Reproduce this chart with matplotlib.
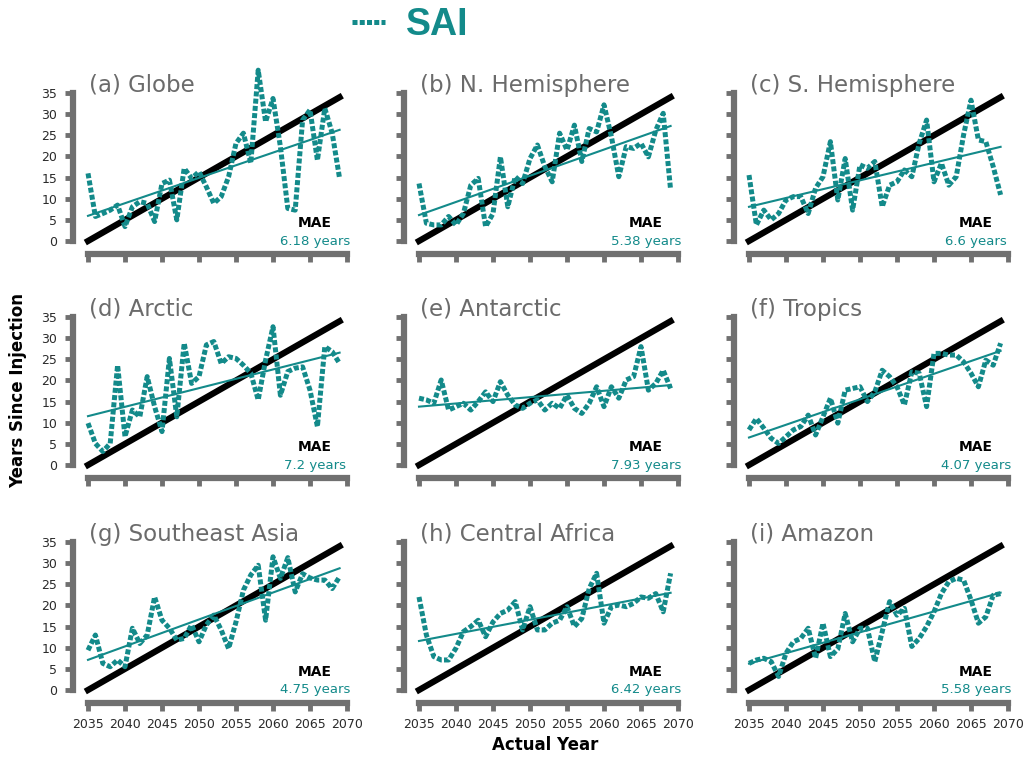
import numpy as np
import matplotlib
matplotlib.use("Agg")
import matplotlib.pyplot as plt
from matplotlib.lines import Line2D

plt.rcParams['font.family'] = ['DejaVu Sans']

years = np.arange(2035, 2070)

titles = ["(a) Globe", "(b) N. Hemisphere", "(c) S. Hemisphere",
          "(d) Arctic", "(e) Antarctic", "(f) Tropics",
          "(g) Southeast Asia", "(h) Central Africa", "(i) Amazon"]
mae_labels = ["6.18 years", "5.38 years", "6.6 years",
              "7.2 years", "7.93 years", "4.07 years",
              "4.75 years", "6.42 years", "5.58 years"]

# predicted years since injection, one value per actual year 2035-2069
globe = [16.0, 5.8, 6.5, 7.3, 8.5, 3.4, 8.1, 9.3, 8.9, 4.6, 13.6, 14.4, 5.0, 17.2,
         14.8, 16.4, 12.8, 8.9, 10.5, 15.2, 23.1, 25.5, 18.4, 40.4, 28.2, 33.7,
         22.3, 7.7, 7.3, 28.6, 31.0, 19.1, 31.4, 25.5, 14.8]
n_hemi = [13.6, 4.2, 3.8, 3.8, 5.8, 3.8, 6.5, 13.2, 14.8, 3.4, 6.5, 19.9, 8.1, 15.2,
          13.6, 19.5, 22.7, 17.6, 14.0, 25.5, 21.5, 27.4, 18.8, 26.6, 25.8, 32.2,
          24.7, 15.2, 22.3, 21.9, 23.1, 19.9, 26.2, 30.2, 12.1]
s_hemi = [15.6, 3.8, 7.3, 5.0, 6.5, 9.7, 10.5, 10.5, 6.5, 12.5, 15.2, 23.5, 9.7, 19.5,
          7.3, 18.0, 17.2, 18.8, 8.1, 13.2, 14.0, 16.8, 15.2, 23.1, 28.6, 14.0,
          18.4, 13.2, 15.2, 25.1, 33.3, 23.9, 23.5, 17.6, 10.9]
arctic = [9.9, 5.1, 3.2, 5.1, 23.6, 6.7, 13.0, 11.4, 20.9, 13.8, 7.9, 25.2, 11.4, 28.8,
          19.3, 20.9, 28.4, 29.2, 24.0, 25.6, 25.2, 23.6, 21.7, 15.4, 24.8, 32.7,
          16.5, 22.1, 22.9, 23.2, 17.7, 9.1, 28.0, 26.8, 24.0]
antarctic = [15.8, 15.4, 14.6, 20.1, 13.0, 13.8, 14.6, 13.0, 15.0, 17.3, 15.0, 19.7,
             16.5, 14.2, 13.4, 14.6, 15.4, 13.0, 14.6, 13.4, 16.5, 13.4, 12.2, 14.6,
             18.5, 13.8, 18.5, 15.8, 20.1, 20.9, 28.0, 17.7, 19.3, 22.4, 18.1]
tropics = [8.3, 11.0, 8.7, 6.3, 5.1, 6.7, 8.3, 9.1, 11.8, 7.1, 11.4, 15.8, 9.9, 17.7,
           18.1, 18.5, 15.0, 17.3, 22.4, 20.9, 18.5, 14.2, 22.0, 21.7, 13.8, 26.4,
           26.4, 26.0, 26.0, 24.4, 21.7, 18.5, 24.8, 23.6, 28.8]
se_asia = [9.4, 13.0, 6.3, 5.5, 7.1, 5.5, 14.6, 11.0, 13.0, 22.0, 16.5, 14.6, 11.8,
           12.2, 15.4, 11.4, 15.4, 17.7, 14.2, 9.8, 16.1, 23.6, 27.2, 29.5, 16.5,
           31.5, 26.4, 31.3, 23.2, 27.5, 26.5, 26.0, 26.0, 24.0, 26.8]
c_africa = [22.0, 13.0, 7.9, 7.1, 7.1, 9.9, 13.8, 15.0, 16.5, 12.6, 16.1, 18.1, 18.9,
            20.9, 14.2, 19.7, 14.2, 14.2, 15.8, 16.5, 19.7, 15.0, 16.9, 24.0, 27.6,
            15.8, 19.7, 20.1, 19.7, 20.5, 22.0, 21.7, 22.8, 18.5, 27.6]
amazon = [6.3, 7.1, 7.5, 6.7, 3.2, 8.7, 11.4, 12.2, 14.6, 7.5, 15.8, 7.9, 9.7, 18.1,
          11.4, 14.6, 14.6, 6.7, 13.8, 20.9, 17.7, 19.3, 10.3, 12.2, 15.0, 18.5,
          22.8, 25.6, 26.4, 26.0, 21.3, 15.8, 17.3, 22.4, 22.8]

series = [globe, n_hemi, s_hemi, arctic, antarctic, tropics, se_asia, c_africa, amazon]

teal = '#138a8a'
spine_gray = '#707070'
title_gray = '#6b6b6b'

fig = plt.figure(figsize=(10.25, 7.67), dpi=100)

lefts = [88, 419, 749]
zero_rows = [241, 465, 690]
W, H = 1025.0, 767.0

for k in range(9):
    row, col = divmod(k, 3)
    ax = fig.add_axes([lefts[col] / W, (H - zero_rows[row]) / H, 259 / W, 148 / H])
    vals = np.array(series[k])

    ax.plot(years, years - 2035, color='black', lw=4.5, zorder=2, clip_on=False)
    ax.plot(years, vals, color=teal, lw=3.6, ls=(0, (1, 0.45)),
            dash_capstyle='butt', zorder=3, clip_on=False)
    m, c = np.polyfit(years, vals, 1)
    ax.plot(years, m * years + c, color=teal, lw=1.5, zorder=4, clip_on=False)

    ax.set_xlim(2035, 2070)
    ax.set_ylim(0, 35)
    ax.set_xticks(range(2035, 2071, 5))
    ax.set_yticks(range(0, 36, 5))
    for side in ['top', 'right']:
        ax.spines[side].set_visible(False)
    ax.spines['left'].set_position(('outward', 11))
    ax.spines['bottom'].set_position(('outward', 9))
    for side in ['left', 'bottom']:
        ax.spines[side].set_color(spine_gray)
        ax.spines[side].set_linewidth(4.5)
    ax.tick_params(length=6, width=3.5, color=spine_gray, labelsize=9,
                   labelcolor='#2a2a2a', pad=5)
    ax.tick_params(labelbottom=(row == 2), labelleft=(col == 0))
    ax.patch.set_visible(False)

    ax.text(2035.2, 35.3, titles[k], fontsize=16.5, color=title_gray,
            ha='left', va='baseline')
    ax.text(2065.7, 4.3, "MAE", fontsize=10, fontweight='bold', color='black',
            ha='center', va='center')
    ax.text(2065.7, 0.0, mae_labels[k], fontsize=9.5, color=teal,
            ha='center', va='center')

fig.text(0.018, 1 - 390 / H, "Years Since Injection", rotation=90, fontsize=12,
         fontweight='bold', ha='center', va='center')
fig.text(545 / W, 1 - 745 / H, "Actual Year", fontsize=12, fontweight='bold',
         ha='center', va='center')

handle = Line2D([], [], color=teal, lw=3.6, ls=(0, (1, 0.45)), dash_capstyle='butt')
fig.legend([handle], ["SAI"], loc='center', bbox_to_anchor=(410 / W, 1 - 25 / H),
           frameon=False, handlelength=0.9, handletextpad=0.55,
           prop={'family': ['Liberation Sans', 'DejaVu Sans'],
                 'weight': 'bold', 'size': 27},
           labelcolor=teal)

fig.savefig("out.png", dpi=100)
